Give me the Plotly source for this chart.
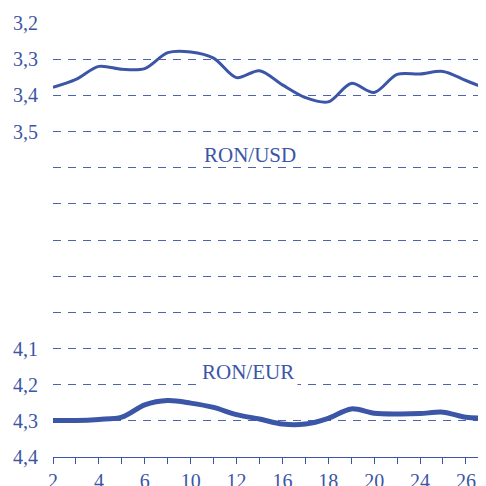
import plotly.graph_objects as go

days = ["2", "3", "4", "5", "6", "9", "10", "11", "12", "13",
        "16", "17", "18", "19", "20", "23", "24", "25", "26", "27"]
usd = [3.378, 3.356, 3.320, 3.328, 3.326, 3.282, 3.280, 3.297, 3.351, 3.332,
       3.371, 3.406, 3.418, 3.367, 3.392, 3.342, 3.341, 3.334, 3.359, 3.385]
eur = [4.299, 4.299, 4.296, 4.290, 4.256, 4.244, 4.251, 4.263, 4.283, 4.295,
       4.309, 4.309, 4.293, 4.267, 4.279, 4.281, 4.280, 4.276, 4.290, 4.293]
x_labels = [d if i % 2 == 0 else "" for i, d in enumerate(days)]
y_ticks = [3.2, 3.3, 3.4, 3.5, 3.6, 3.7, 3.8, 3.9, 4.0, 4.1, 4.2, 4.3, 4.4]
y_labels = ["3,2", "3,3", "3,4", "3,5", "", "", "", "", "", "4,1", "4,2", "4,3", "4,4"]

BLUE = "#3b56a6"
GRID = "#4c63ad"
FONT = "Liberation Serif, Times New Roman, serif"

fig = go.Figure()
fig.add_trace(go.Scatter(x=days, y=usd, mode="lines",
                         line=dict(color=BLUE, width=3, shape="spline", smoothing=0.9),
                         showlegend=False, hoverinfo="skip"))
fig.add_trace(go.Scatter(x=days, y=eur, mode="lines",
                         line=dict(color=BLUE, width=5, shape="spline", smoothing=0.9),
                         showlegend=False, hoverinfo="skip"))

fig.update_layout(
    width=478, height=478,
    margin=dict(l=45, r=0, t=15, b=29, autoexpand=False),
    paper_bgcolor="white", plot_bgcolor="white",
    font=dict(family=FONT, size=20, color=BLUE),
    xaxis=dict(type="category", range=[0, 18.875], automargin=False,
               tickmode="array", tickvals=days, ticktext=x_labels,
               showline=True, linecolor=BLUE, linewidth=1,
               ticks="outside", ticklen=6, tickcolor=BLUE, tickwidth=1,
               showgrid=False, zeroline=False,
               tickfont=dict(family=FONT, size=20, color=BLUE)),
    yaxis=dict(range=[4.4, 3.2], tickmode="array", tickvals=y_ticks, ticktext=y_labels,
               automargin=False,
               showgrid=True, gridcolor=GRID, gridwidth=1, griddash="8px,7px",
               zeroline=False, showline=False, ticks="",
               ticklabelstandoff=14,
               tickfont=dict(family=FONT, size=20, color=BLUE)),
    annotations=[
        dict(text="RON/USD", xref="paper", yref="y", x=0.455, y=3.565,
             showarrow=False, font=dict(family=FONT, size=21, color=BLUE)),
        dict(text="RON/EUR", xref="paper", yref="y", x=0.45, y=4.165,
             showarrow=False, bgcolor="white", borderpad=3,
             font=dict(family=FONT, size=21, color=BLUE)),
    ],
)

fig.write_html("out.html")
